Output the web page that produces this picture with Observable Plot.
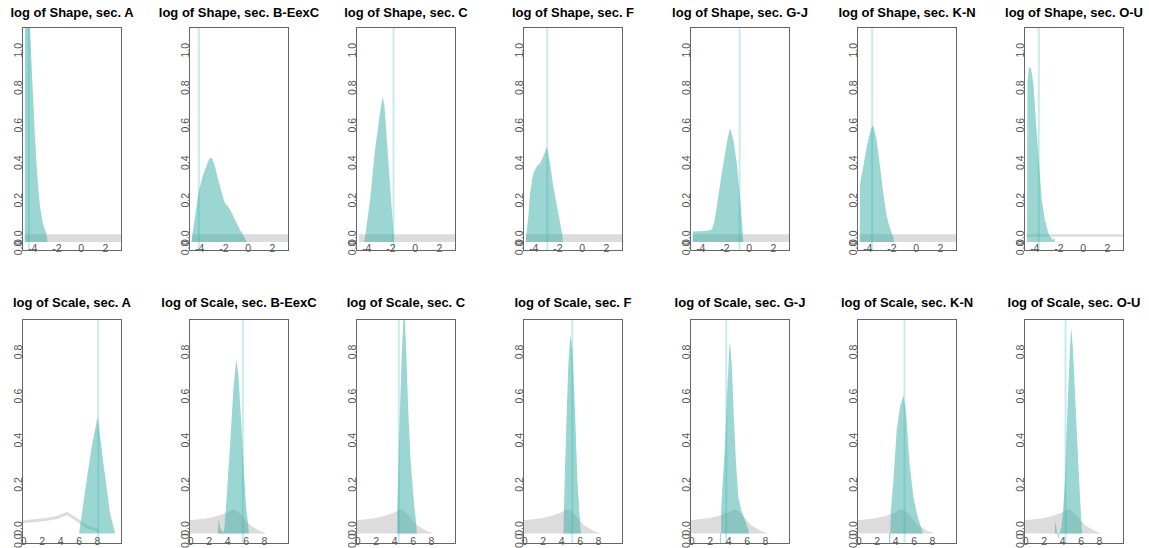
<!DOCTYPE html>
<html><head><meta charset="utf-8">
<script src="https://cdn.jsdelivr.net/npm/d3@7"></script>
<script src="https://cdn.jsdelivr.net/npm/@observablehq/plot@0.6"></script>
<style>
body{margin:0;background:#fff;}
#wrap{position:relative;width:1149px;height:548px;overflow:hidden;font-family:"Liberation Sans",Arial,sans-serif;}
#wrap svg{position:absolute;}
</style></head><body><div id="wrap"></div>
<script>
// ---------- data ----------
const sections = ["A", "B-EexC", "C", "F", "G-J", "K-N", "O-U"];

// posterior density of log(Shape), per section
const shapeX = [
  [-4.62,-4.6,-4.45,-4.3,-4.2,-4.05,-3.92,-3.8,-3.64,-3.5,-3.36,-3.15,-2.95,-2.8,-2.75],
  [-4.65,-4.4,-4.21,-4.08,-3.94,-3.75,-3.53,-3.3,-3.11,-2.95,-2.7,-2.5,-2.29,-2.05,-1.87,-1.65,-1.46,-1.25,-1.05,-0.83,-0.63,-0.35,-0.1],
  [-4.16,-3.69,-3.28,-2.87,-2.64,-2.5,-2.34,-2.07,-1.8,-1.74,-1.72],
  [-4.62,-4.6,-4.41,-4.27,-4.0,-3.72,-3.45,-3.17,-2.95,-2.88,-2.62,-2.35,-1.93,-1.6,-1.55],
  [-4.63,-4.62,-4.0,-3.5,-3.06,-2.85,-2.64,-2.23,-1.82,-1.6,-1.54,-1.27,-0.99,-0.71,-0.49,-0.45],
  [-4.62,-4.6,-4.5,-4.33,-4.05,-3.78,-3.6,-3.5,-3.23,-2.95,-2.68,-2.4,-1.99,-1.85,-1.8],
  [-4.6,-4.57,-4.45,-4.35,-4.25,-4.08,-3.95,-3.8,-3.59,-3.39,-3.12,-2.84,-2.6,-2.45,-2.35,-2.3]
];
const shapeY = [
  [-0.025,2.0,1.6,1.3,1.12,0.91,0.73,0.56,0.38,0.26,0.163,0.08,0.039,0.01,-0.025],
  [-0.025,0.09,0.17,0.235,0.27,0.32,0.36,0.4,0.425,0.42,0.377,0.32,0.27,0.215,0.181,0.165,0.146,0.12,0.092,0.065,0.039,0.01,-0.025],
  [-0.025,0.199,0.466,0.662,0.75,0.7,0.555,0.306,0.06,0.0,-0.025],
  [-0.025,0.0,0.11,0.235,0.34,0.377,0.395,0.43,0.47,0.48,0.395,0.27,0.128,0.01,-0.025],
  [-0.025,0.03,0.032,0.035,0.04,0.08,0.163,0.341,0.5,0.57,0.58,0.52,0.395,0.2,0.021,-0.025],
  [-0.025,0.28,0.32,0.377,0.484,0.555,0.595,0.59,0.52,0.377,0.235,0.11,0.021,0.0,-0.025],
  [-0.025,0.82,0.9,0.91,0.89,0.822,0.7,0.555,0.377,0.2,0.092,0.021,-0.005,-0.015,0.0,-0.025]
];
const shapeRef = [-4.33, -4.08, -1.8, -2.89, -0.8, -3.64, -3.67];

// prior density of log(Shape) (flat, near zero)
const priorShapeX = [-4.62, 3.4];
const priorShapeY = [0.016, 0.016];
const priorShapeLineY = [0.012, 0.012];

// posterior density of log(Scale), per section
const scaleX = [
  [6.05,6.88,7.43,8.0,8.08,8.69,9.41,9.96],
  [3.0,3.05,3.3,3.58,3.7,3.95,4.31,4.67,4.96,5.0,5.21,5.47,5.76,6.05,6.3,6.35],
  [4.34,4.345,4.49,4.64,4.82,5.0,5.1,5.29,5.54,5.8,6.09,6.38,6.45],
  [4.24,4.4,4.6,4.78,4.96,5.05,5.25,5.51,5.76,5.98,6.1,6.15],
  [3.1,3.11,3.22,3.23,3.24,3.4,3.66,3.88,4.13,4.2,4.38,4.6,4.85,5.1,5.4,5.94,6.2,6.25],
  [3.33,3.34,3.46,3.48,3.52,3.81,4.17,4.53,4.82,4.9,5.19,5.55,5.98,6.34,6.78,7.0],
  [3.2,3.25,3.45,3.6,3.75,3.92,4.1,4.31,4.56,4.78,4.93,5.0,5.15,5.41,5.66,5.88,6.03,6.16]
];
const scaleY = [
  [-0.025,0.219,0.37,0.49,0.5,0.294,0.068,-0.025],
  [-0.025,0.04,-0.005,-0.02,0.0,0.143,0.37,0.626,0.755,0.76,0.7,0.52,0.294,0.098,0.007,-0.025],
  [-0.025,0.09,0.32,0.55,0.78,0.95,1.0,0.822,0.52,0.294,0.143,0.023,-0.025],
  [-0.025,0.25,0.52,0.747,0.853,0.87,0.79,0.52,0.219,0.068,0.0,-0.025],
  [-0.025,-0.07,-0.07,-0.025,0.08,0.2,0.37,0.6,0.822,0.84,0.747,0.52,0.294,0.143,0.083,0.023,-0.01,-0.025],
  [-0.025,-0.07,-0.07,-0.025,0.07,0.219,0.445,0.55,0.589,0.6,0.52,0.294,0.143,0.068,0.007,-0.025],
  [-0.025,0.03,-0.02,-0.05,-0.02,0.007,0.08,0.22,0.52,0.747,0.883,0.9,0.822,0.596,0.37,0.188,0.068,-0.025]
];
const scaleRef = [8.08, 5.65, 4.45, 5.15, 3.74, 4.96, 4.31];

// prior density of log(Scale)
const priorScaleX = [-0.14,1,2,3,4,4.6,5,5.5,6,6.5,7,7.5,8.3];
const priorScaleY = [0.035,0.04,0.045,0.055,0.07,0.085,0.08,0.06,0.035,0.012,0.0,-0.012,-0.025];
const priorScaleLineX = [-0.14,1,2.17,3.63,4.71,5.8,6.88,7.97];
const priorScaleLineY = [0.03,0.035,0.04,0.05,0.068,0.038,0.007,-0.008];

// tick labels
const shapeXTicks = [-4, -2, 0, 2];
const scaleXTicks = [0, 2, 4, 6, 8];
const shapeYTicks = [0, 0.2, 0.4, 0.6, 0.8, 1.0];
const scaleYTicks = [0, 0.2, 0.4, 0.6, 0.8];
const baseline = -0.025;
const cornerLabelY = -0.055;

// ---------- drawing ----------
const wrap = document.getElementById("wrap");
const PITCH = 167;
const TEAL = "#20b2aa";

function zip(xs, ys) { return xs.map((x, k) => ({x, y: ys[k]})); }

function panel(row, i) {
  const isShape = row === 0;
  const H = isShape ? 274 : 268;
  const post = isShape ? zip(shapeX[i], shapeY[i]) : zip(scaleX[i], scaleY[i]);
  const ref = isShape ? shapeRef[i] : scaleRef[i];
  const title = (isShape ? "log of Shape, sec. " : "log of Scale, sec. ") + sections[i];
  const lineOnly = isShape ? sections[i] === "O-U" : sections[i] === "A";
  let prior;
  if (isShape) prior = zip(priorShapeX, lineOnly ? priorShapeLineY : priorShapeY);
  else prior = lineOnly ? zip(priorScaleLineX, priorScaleLineY) : zip(priorScaleX, priorScaleY);

  const marks = [];
  if (lineOnly) {
    marks.push(Plot.line(prior, {x: "x", y: "y", stroke: "#808080", strokeOpacity: 0.28, strokeWidth: isShape ? 2.5 : 3, clip: true}));
  } else {
    marks.push(Plot.areaY(prior, {x: "x", y1: baseline, y2: "y", fill: "#808080", fillOpacity: 0.28, clip: true}));
  }
  marks.push(Plot.areaY(post, {x: "x", y1: baseline, y2: "y", fill: "#3fb0a9", fillOpacity: 0.52, clip: true}));
  marks.push(Plot.ruleX([ref], {stroke: TEAL, strokeOpacity: 0.25, strokeWidth: 2, clip: true}));
  marks.push(Plot.frame({stroke: "#666"}));
  marks.push(Plot.axisX(isShape ? shapeXTicks : scaleXTicks, {
    tickSize: 0, tickPadding: 0, lineAnchor: "middle", dy: -1.5,
    tickFormat: d => String(d), fill: "#555", fontSize: 10.5, label: null
  }));
  marks.push(Plot.text(isShape ? shapeYTicks : scaleYTicks, {
    frameAnchor: "left", y: d => d, text: d => d.toFixed(1), rotate: -90,
    textAnchor: "middle", lineAnchor: "bottom", dx: -1, fill: "#555", fontSize: 10.5
  }));
  marks.push(Plot.text([cornerLabelY], {
    frameAnchor: "left", y: d => d, text: () => "0.0", rotate: -90,
    textAnchor: "middle", lineAnchor: "bottom", dx: -1, fill: "#555", fontSize: 10.5
  }));
  marks.push(Plot.text([title], {
    frameAnchor: "top", dy: isShape ? -14.5 : -16.5, lineAnchor: "middle",
    fontWeight: "bold", fontSize: 13, fill: "#000"
  }));

  const svg = Plot.plot({
    width: PITCH, height: H,
    marginLeft: 22, marginRight: PITCH - 22 - 99,
    marginTop: isShape ? 27 : 39, marginBottom: isShape ? 24 : 5,
    x: {domain: isShape ? [-4.85, 3.32] : [-0.14, 10.6], axis: null},
    y: {domain: isShape ? [-0.068, 1.121] : [-0.068, 0.947], axis: null},
    style: {fontFamily: "Liberation Sans, Arial, sans-serif", background: "transparent", overflow: "visible"},
    marks
  });
  svg.style.left = (PITCH * i) + "px";
  svg.style.top = (isShape ? 0 : 280) + "px";
  wrap.appendChild(svg);
}

for (let r = 0; r < 2; r++) for (let i = 0; i < sections.length; i++) panel(r, i);
</script>
</body></html>
